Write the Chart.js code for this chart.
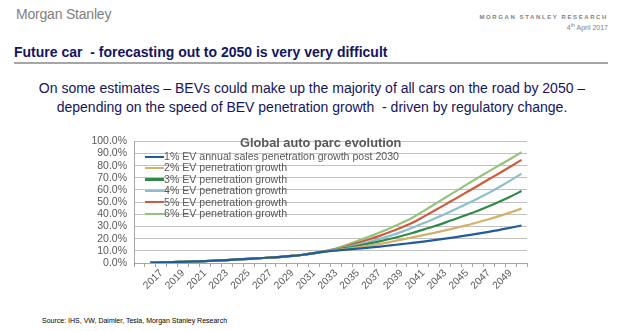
<!DOCTYPE html>
<html>
<head>
<meta charset="utf-8">
<script src="https://cdn.jsdelivr.net/npm/chart.js@4"></script>
<style>
  html, body { margin: 0; padding: 0; background: #fff; }
  body { width: 624px; height: 331px; position: relative; overflow: hidden;
         font-family: "Liberation Sans", Arial, sans-serif; }
  .abs { position: absolute; white-space: nowrap; }
  #logo { left: 16px; top: 6px; font-size: 14px; color: #7f7f7f; letter-spacing: -0.2px; }
  #research { right: 16px; top: 14px; font-size: 6px; font-weight: bold; color: #7f7f7f; letter-spacing: 1.6px; }
  #date { right: 16px; top: 22px; font-size: 7px; color: #7f7f7f; }
  #date sup { font-size: 5px; }
  #title { left: 14px; top: 44px; font-size: 14px; font-weight: bold; color: #14145f;
           font-family: "Liberation Sans Narrow", "Liberation Sans", Arial, sans-serif; }
  #rule { left: 14px; top: 62px; width: 594px; height: 2px; background: #a6a6a6; }
  #sub { left: 0; width: 624px; top: 79px; text-align: center; font-size: 14px;
         line-height: 19px; color: #14145f; }
  #chartBox { left: 80px; top: 128px; width: 460px; height: 172px; }
  #ctitle { left: 240px; top: 135px; font-size: 12.8px; font-weight: bold; color: #595959; }
  #legend { left: 145px; top: 151px; font-size: 10.6px; color: #595959; line-height: 11.4px; }
  #legend div { display: flex; align-items: center; }
  #legend span.sw { display: inline-block; width: 19px; height: 2.2px; margin-right: 0; }
  #source { left: 42px; top: 317px; font-size: 7px; color: #000; }
</style>
</head>
<body>
<div class="abs" id="logo">Morgan Stanley</div>
<div class="abs" id="research">MORGAN STANLEY RESEARCH</div>
<div class="abs" id="date">4<sup>th</sup> April 2017</div>
<div class="abs" id="title">Future car&nbsp; - forecasting out to 2050 is very very difficult</div>
<div class="abs" id="rule"></div>
<div class="abs" id="sub">On some estimates – BEVs could make up the majority of all cars on the road by 2050 –<br>depending on the speed of BEV penetration growth&nbsp; - driven by regulatory change.</div>
<div class="abs" id="chartBox"><canvas id="chart"></canvas></div>
<div class="abs" id="ctitle">Global auto parc evolution</div>
<div class="abs" id="legend"></div>
<div class="abs" id="source">Source: IHS, VW, Daimler, Tesla, Morgan Stanley Research</div>

<script>
// Categories (first slot is an empty category, as in the source chart)
const years = ["", "2016", "2017", "2018", "2019", "2020", "2021", "2022", "2023", "2024",
  "2025", "2026", "2027", "2028", "2029", "2030", "2031", "2032", "2033", "2034", "2035",
  "2036", "2037", "2038", "2039", "2040", "2041", "2042", "2043", "2044", "2045", "2046",
  "2047", "2048", "2049", "2050"];

const seriesNames = [
  "1% EV annual sales penetration growth post 2030",
  "2% EV penetration growth",
  "3% EV penetration growth",
  "4% EV penetration growth",
  "5% EV penetration growth",
  "6% EV penetration growth"
];
const seriesColors = ["#1f5c99", "#d4b26a", "#2e8b47", "#8ebdcf", "#d05a3c", "#93c47d"];

// share of parc (%), 2016..2050
const ev1 = [null, 0.3, 0.5, 0.7, 1.0, 1.3, 1.6, 2.0, 2.4, 2.9, 3.4, 3.9, 4.5, 5.1, 5.8, 6.8, 8.1,
  9.3, 10.2, 11.0, 11.8, 12.6, 13.5, 14.5, 15.5, 16.5, 17.6, 18.8, 20.0, 21.3, 22.7, 24.1, 25.6, 27.2, 29.0, 30.8];
const ev2 = [null, 0.3, 0.5, 0.7, 1.0, 1.3, 1.6, 2.0, 2.4, 2.9, 3.4, 3.9, 4.5, 5.1, 5.8, 6.8, 8.1,
  9.4, 10.6, 11.7, 12.9, 14.2, 15.7, 17.4, 19.2, 21.0, 22.9, 24.8, 26.8, 28.9, 31.1, 33.5, 36.0, 38.7, 41.6, 44.7];
const ev3 = [null, 0.3, 0.5, 0.7, 1.0, 1.3, 1.6, 2.0, 2.4, 2.9, 3.4, 3.9, 4.5, 5.1, 5.8, 6.8, 8.1,
  9.5, 10.9, 12.4, 14.1, 15.9, 17.8, 19.9, 22.2, 24.7, 27.4, 30.2, 33.2, 36.3, 39.6, 43.0, 46.6, 50.5, 54.7, 59.1];
const ev4 = [null, 0.3, 0.5, 0.7, 1.0, 1.3, 1.6, 2.0, 2.4, 2.9, 3.4, 3.9, 4.5, 5.1, 5.8, 6.8, 8.1,
  9.6, 11.2, 13.0, 15.1, 17.3, 19.8, 22.5, 25.6, 29.0, 32.6, 36.4, 40.3, 44.4, 48.6, 53.0, 57.6, 62.6, 67.9, 73.4];
const ev5 = [null, 0.3, 0.5, 0.7, 1.0, 1.3, 1.6, 2.0, 2.4, 2.9, 3.4, 3.9, 4.5, 5.1, 5.8, 6.8, 8.1,
  9.7, 11.5, 13.8, 16.6, 19.3, 22.3, 25.6, 29.2, 33.0, 37.9, 42.9, 48.0, 53.1, 58.3, 63.5, 68.8, 74.0, 79.3, 84.7];
const ev6 = [null, 0.3, 0.5, 0.7, 1.0, 1.3, 1.6, 2.0, 2.4, 2.9, 3.4, 3.9, 4.5, 5.1, 5.8, 6.8, 8.1,
  9.8, 11.9, 14.9, 18.2, 21.6, 25.0, 28.7, 32.8, 37.2, 42.6, 48.1, 53.6, 59.1, 64.6, 70.0, 75.3, 80.5, 85.7, 91.0];

const yTicks = [0, 10, 20, 30, 40, 50, 60, 70, 80, 90, 100];

(function () {
  "use strict";

  const allSeries = [ev1, ev2, ev3, ev4, ev5, ev6];
  const grey = "#595959";

  // ── Legend (overlaid on plot, like the original) ──
  const legend = document.getElementById("legend");
  seriesNames.forEach((name, i) => {
    const row = document.createElement("div");
    row.innerHTML = `<span class="sw" style="background:${seriesColors[i]}"></span>${name}`;
    legend.appendChild(row);
  });

  // ── Chart ──
  const datasets = allSeries.map((data, i) => ({
    label: seriesNames[i],
    data: data,
    borderColor: seriesColors[i],
    backgroundColor: seriesColors[i],
    borderWidth: 2.2,
    pointRadius: 0,
    cubicInterpolationMode: "monotone",
    fill: false,
  }));

  new Chart(document.getElementById("chart").getContext("2d"), {
    type: "line",
    data: { labels: years, datasets: datasets },
    options: {
      responsive: true,
      maintainAspectRatio: false,
      animation: false,
      layout: { padding: { top: 2, right: 13, bottom: 2, left: 0 } },
      plugins: { legend: { display: false }, tooltip: { enabled: false } },
      scales: {
        x: {
          type: "category",
          offset: true,
          afterFit: (s) => { s.height = 35; },
          grid: {
            offset: true,
            drawOnChartArea: false,
            drawTicks: true,
            tickLength: 4,
            color: "#a6a6a6",
          },
          border: { color: "#a6a6a6", width: 1 },
          ticks: {
            autoSkip: false,
            maxRotation: 45,
            minRotation: 45,
            padding: 0,
            color: grey,
            font: { family: "Liberation Sans", size: 10.3 },
            callback: function (val, idx) {
              return idx % 2 === 0 ? years[idx] : "";
            },
          },
        },
        y: {
          min: 0,
          max: 100,
          afterFit: (s) => { s.width = 54; },
          afterBuildTicks: (s) => { s.ticks = yTicks.map((v) => ({ value: v })); },
          grid: { color: "#c0c0c0", lineWidth: 1, drawTicks: false },
          border: { color: "#a6a6a6", width: 1 },
          ticks: {
            autoSkip: false,
            padding: 7,
            color: grey,
            font: { family: "Liberation Sans", size: 10.5 },
            callback: (v) => v.toFixed(1) + "%",
          },
        },
      },
    },
  });
})();
</script>
</body>
</html>
